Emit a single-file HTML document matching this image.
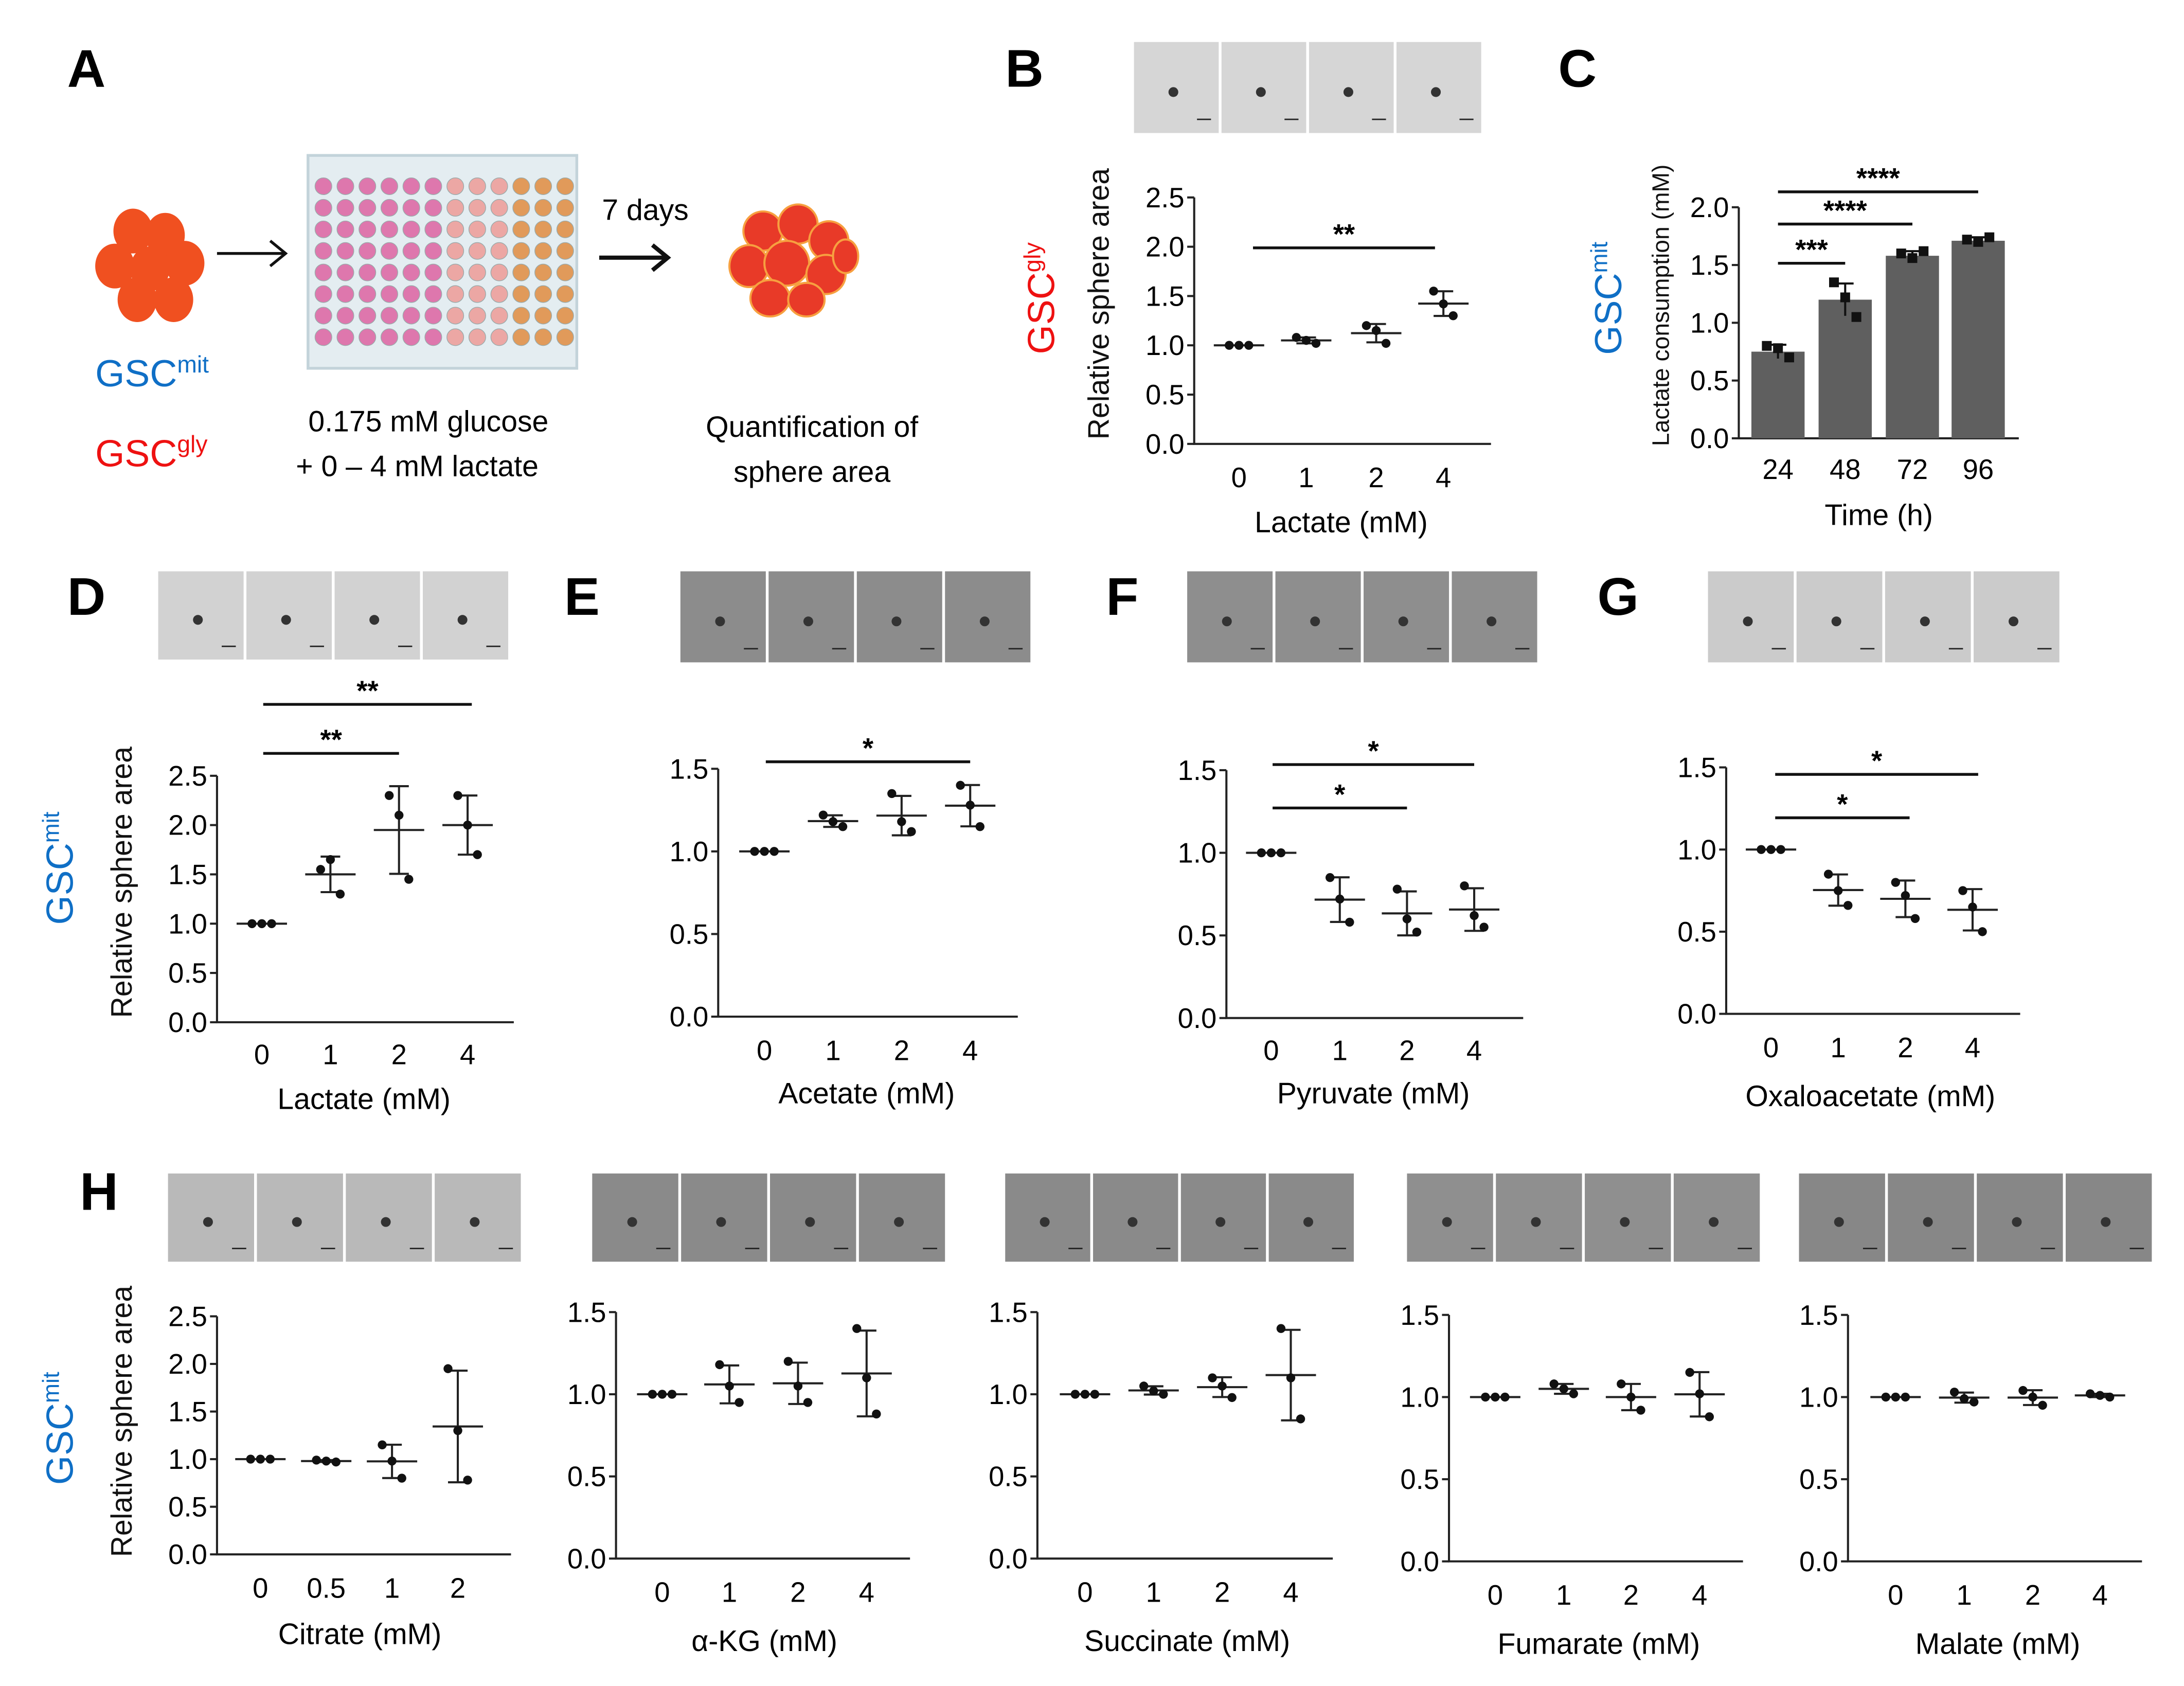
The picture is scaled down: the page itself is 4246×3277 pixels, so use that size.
<!DOCTYPE html>
<html><head><meta charset="utf-8"><style>
html,body{margin:0;padding:0;background:#fff}
svg{display:block;font-family:"Liberation Sans",sans-serif}
</style></head><body>
<svg id="fig" xmlns="http://www.w3.org/2000/svg" width="4246" height="3277" viewBox="0 0 1560 1204">
<rect width="1560" height="1204" fill="#fff"/>
<g id="panelA">
 <text x="48" y="62" font-size="38" font-weight="bold">A</text>
 <g fill="#f05020">
  <ellipse cx="95" cy="165" rx="14" ry="16"/><ellipse cx="118" cy="168" rx="14" ry="16"/>
  <ellipse cx="82" cy="190" rx="14" ry="16"/><ellipse cx="107" cy="192" rx="14" ry="16"/><ellipse cx="132" cy="188" rx="14" ry="16"/>
  <ellipse cx="98" cy="214" rx="14" ry="16"/><ellipse cx="124" cy="214" rx="14" ry="16"/>
 </g>
 <path d="M155 181 H203 M193 172 L204 181 L193 190" stroke="#111" stroke-width="2" fill="none"/>
 <rect x="220" y="111" width="192" height="152" fill="#e4edf1" stroke="#c3d3da" stroke-width="2"/>
 <g id="wells"></g>
 <text x="430" y="157" font-size="21">7 days</text>
 <path d="M428 184 H476 M466 175 L477 184 L466 193" stroke="#111" stroke-width="3" fill="none"/>
 <g fill="#e83a28" stroke="#f7a040" stroke-width="1.5">
  <ellipse cx="545" cy="165" rx="14" ry="14"/><ellipse cx="570" cy="160" rx="14" ry="14"/><ellipse cx="592" cy="172" rx="14" ry="14"/>
  <ellipse cx="535" cy="190" rx="14" ry="15"/><ellipse cx="562" cy="188" rx="16" ry="16"/><ellipse cx="590" cy="196" rx="14" ry="14"/>
  <ellipse cx="550" cy="213" rx="14" ry="13"/><ellipse cx="576" cy="214" rx="13" ry="12"/><ellipse cx="604" cy="183" rx="9" ry="12"/>
 </g>
 <text x="68" y="276" font-size="27" fill="#0f6fc6">GSC<tspan font-size="17" dy="-10">mit</tspan></text>
 <text x="68" y="333" font-size="27" fill="#ee1111">GSC<tspan font-size="17" dy="-10">gly</tspan></text>
 <text x="306" y="308" font-size="21" text-anchor="middle">0.175 mM glucose</text>
 <text x="298" y="340" font-size="21" text-anchor="middle">+ 0 – 4 mM lactate</text>
 <text x="580" y="312" font-size="21" text-anchor="middle">Quantification of</text>
 <text x="580" y="344" font-size="21" text-anchor="middle">sphere area</text>
</g>
<g id="plots"></g>
</svg>
<script>
var NS="http://www.w3.org/2000/svg";
function mk(parent,tag,attrs,txt){var e=document.createElementNS(NS,tag);for(var k in attrs)e.setAttribute(k,attrs[k]);if(txt!=null)e.textContent=txt;parent.appendChild(e);return e;}
// wells
var wg=document.getElementById('wells');
for(var r=0;r<8;r++)for(var c=0;c<12;c++){var col=c<6?'#de77ad':(c<9?'#eca7a4':'#e19a5a');
 var w=mk(wg,'circle',{cx:231+c*15.7,cy:133+r*15.4,r:6,fill:col,stroke:'#9aa',"stroke-width":0.5});
 
 }

// ===== DATA =====
var catsLac=["0","1","2","4"], catsCit=["0","0.5","1","2"];
var bLac=[[1,1,1],[1.08,1.05,1.02],[1.2,1.15,1.02],[1.55,1.42,1.3]];
var cTimes=["24","48","72","96"];
var cVals=[0.75,1.2,1.58,1.71];
var cErr=[0.06,0.14,0.04,0.03];
var cPts=[[0.8,0.78,0.7],[1.35,1.22,1.05],[1.6,1.56,1.62],[1.72,1.7,1.74]];
var dLac=[[1,1,1],[1.55,1.65,1.3],[2.3,2.1,1.45],[2.3,2.0,1.7]];
var eAce=[[1,1,1],[1.22,1.18,1.15],[1.35,1.18,1.12],[1.4,1.28,1.15]];
var fPyr=[[1,1,1],[0.85,0.72,0.58],[0.78,0.6,0.52],[0.8,0.62,0.55]];
var gOxa=[[1,1,1],[0.85,0.75,0.66],[0.8,0.72,0.58],[0.75,0.65,0.5]];
var hCit=[[1,1,1],[0.99,0.98,0.97],[1.15,0.98,0.8],[1.95,1.3,0.78]];
var hAkg=[[1,1,1],[1.18,1.05,0.95],[1.2,1.05,0.95],[1.4,1.1,0.88]];
var hSuc=[[1,1,1],[1.05,1.02,1.0],[1.1,1.05,0.98],[1.4,1.1,0.85]];
var hFum=[[1,1,1],[1.08,1.05,1.02],[1.08,1.0,0.92],[1.15,1.02,0.88]];
var hMal=[[1,1,1],[1.03,0.99,0.97],[1.04,1.0,0.95],[1.02,1.01,1.0]];
var ticks25=["0.0","0.5","1.0","1.5","2.0","2.5"], ticks15=["0.0","0.5","1.0","1.5"], ticks20=["0.0","0.5","1.0","1.5","2.0"];

var root=document.getElementById('plots');
function mean(a){return a.reduce(function(s,v){return s+v},0)/a.length;}
function sd(a){var m=mean(a);return Math.sqrt(a.reduce(function(s,v){return s+(v-m)*(v-m)},0)/(a.length-1));}
function axes(g,p,tick,cats){
 var ymax=parseFloat(tick[tick.length-1]);
 var ys=function(v){return p.y0-(v/ymax)*(p.y0-p.yt);};
 var l=mk(g,'path',{d:'M'+p.ax+' '+p.yt+' V'+p.y0+' H'+p.xe,stroke:'#222','stroke-width':1.5,fill:'none'});
 
 
 tick.forEach(function(t){var v=parseFloat(t);var y=ys(v);
  mk(g,'line',{x1:p.ax-5,x2:p.ax,y1:y,y2:y,stroke:'#222','stroke-width':1.5});
  var tt=mk(g,'text',{x:p.ax-7,y:y+7,'font-size':20,'text-anchor':'end'},t);
  
  });
 cats.forEach(function(c,i){var tt=mk(g,'text',{x:p.xs[i],y:p.ly,'font-size':20,'text-anchor':'middle'},c);
  
  });
 var xt=mk(g,'text',{x:p.tx,y:p.ty,'font-size':21,'text-anchor':'middle'},p.title);
 
 
 return ys;
}
function imgs(g,x,y,w,h,fill){for(var i=0;i<4;i++){var tw=w/4;
 var r=mk(g,'rect',{x:x+i*tw,y:y,width:tw-2,height:h,fill:fill});
 
 
 mk(g,'circle',{cx:x+i*tw+tw*0.45,cy:y+h*0.55,r:3.5,fill:'#333'});
 mk(g,'line',{x1:x+i*tw+tw*0.72,x2:x+i*tw+tw*0.88,y1:y+h*0.85,y2:y+h*0.85,stroke:'#222','stroke-width':1});}}
function scatter(name,p,data,tick,cats){
 var g=mk(root,'g',{});
 
 
 var ys=axes(g,p,tick,cats);
 data.forEach(function(pts,i){var x=p.xs[i],m=mean(pts),s=sd(pts);
  var ml=mk(g,'line',{x1:x-18,x2:x+18,y1:ys(m),y2:ys(m),stroke:'#222','stroke-width':1.5});
  
  
  if(s>0.001){mk(g,'path',{d:'M'+x+' '+ys(m+s)+' V'+ys(m-s)+' M'+(x-7)+' '+ys(m+s)+' H'+(x+7)+' M'+(x-7)+' '+ys(m-s)+' H'+(x+7),stroke:'#222','stroke-width':1.5,fill:'none'});}
  pts.forEach(function(v,j){var d=mk(g,'circle',{cx:x+(j-1)*7,cy:ys(v),r:3.2,fill:'#111'});
   
   });});
 return g;
}
function sig(g,x1,x2,y,lab){mk(g,'line',{x1:x1,x2:x2,y1:y,y2:y,stroke:'#111','stroke-width':2});
 var t=mk(g,'text',{x:(x1+x2)/2,y:y-3,'font-size':20,'font-weight':'bold','text-anchor':'middle'},lab);
 
 }
function rot(g,x,y,txt,size,fill,name,sup){var t=mk(g,'text',{x:0,y:0,'font-size':size,fill:fill,'text-anchor':'middle',transform:'translate('+x+','+y+') rotate(-90)'},txt);
 if(sup){mk(t,'tspan',{'font-size':size*0.62,dy:-size*0.37},sup);}
 
 }
function letter(x,y,L){var t=mk(root,'text',{x:x,y:y,'font-size':38,'font-weight':'bold'},L);
 
 }

// B
letter(718,62,'B');
var gB=scatter('panel-b-chart',{ax:853,yt:141,y0:317,xe:1065,xs:[885,933,983,1031],ly:348,tx:958,ty:380,title:'Lactate (mM)'},bLac,ticks25,catsLac);
imgs(gB,810,30,250,65,'#d6d6d6');sig(gB,895,1025,177,'**');
rot(gB,792,217,'Relative sphere area',21,'#111','y-axis-title');
rot(gB,753,213,'GSC',27,'#ee1111','gsc-gly-label','gly');

// C bars
letter(1113,62,'C');
(function(){var g=mk(root,'g',{});
 
 
 var p={ax:1242,yt:148,y0:313,xe:1442,xs:[1270,1318,1366,1413],ly:342,tx:1342,ty:375,title:'Time (h)'};
 var ys=axes(g,p,ticks20,cTimes);
 cVals.forEach(function(v,i){var x=p.xs[i];
  var b=mk(g,'rect',{x:x-19,y:ys(v),width:38,height:p.y0-ys(v),fill:'#5f5f5f'});
  
  
  mk(g,'path',{d:'M'+x+' '+ys(v+cErr[i])+' V'+ys(v-cErr[i])+' M'+(x-6)+' '+ys(v+cErr[i])+' H'+(x+6),stroke:'#111','stroke-width':1.5,fill:'none'});
  cPts[i].forEach(function(pv,j){var m=mk(g,'rect',{x:x+(j-1)*8-3.5,y:ys(pv)-3.5,width:7,height:7,fill:'#111'});
   
   });});
 sig(g,1270,1318,188,'***');sig(g,1270,1366,160,'****');sig(g,1270,1413,137,'****');
 rot(g,1192,218,'Lactate consumption (mM)',17,'#111','y-axis-title');
 rot(g,1158,213,'GSC',27,'#0f6fc6','gsc-mit-label','mit');})();

// D
letter(48,439,'D');
var gD=scatter('panel-d-chart',{ax:155,yt:554,y0:730,xe:367,xs:[187,236,285,334],ly:760,tx:260,ty:792,title:'Lactate (mM)'},dLac,ticks25,catsLac);
imgs(gD,113,408,252,63,'#d2d2d2');sig(gD,188,285,538,'**');sig(gD,188,337,503,'**');
rot(gD,94,630,'Relative sphere area',21,'#111','y-axis-title');
rot(gD,52,620,'GSC',27,'#0f6fc6','gsc-mit-label','mit');
// E
letter(403,439,'E');
var gE=scatter('panel-e-chart',{ax:513,yt:549,y0:726,xe:727,xs:[546,595,644,693],ly:757,tx:619,ty:788,title:'Acetate (mM)'},eAce,ticks15,catsLac);
imgs(gE,486,408,252,65,'#8c8c8c');sig(gE,547,693,544,'*');
// F
letter(790,439,'F');
var gF=scatter('panel-f-chart',{ax:876,yt:550,y0:727,xe:1088,xs:[908,957,1005,1053],ly:757,tx:981,ty:788,title:'Pyruvate (mM)'},fPyr,ticks15,catsLac);
imgs(gF,848,408,252,65,'#8e8e8e');sig(gF,909,1005,577,'*');sig(gF,909,1053,546,'*');
// G
letter(1141,439,'G');
var gG=scatter('panel-g-chart',{ax:1233,yt:548,y0:724,xe:1443,xs:[1265,1313,1361,1409],ly:755,tx:1336,ty:790,title:'Oxaloacetate (mM)'},gOxa,ticks15,catsLac);
imgs(gG,1220,408,253,65,'#cbcbcb');sig(gG,1268,1364,584,'*');sig(gG,1268,1413,553,'*');
// H
letter(57,864,'H');
var gH1=scatter('panel-h-citrate',{ax:155,yt:940,y0:1110,xe:365,xs:[186,233,280,327],ly:1141,tx:257,ty:1174,title:'Citrate (mM)'},hCit,ticks25,catsCit);
imgs(gH1,120,838,254,63,'#b9b9b9');
rot(gH1,94,1015,'Relative sphere area',21,'#111','y-axis-title');
rot(gH1,52,1020,'GSC',27,'#0f6fc6','gsc-mit-label','mit');
var gH2=scatter('panel-h-akg',{ax:440,yt:937,y0:1113,xe:650,xs:[473,521,570,619],ly:1144,tx:546,ty:1179,title:'α-KG (mM)'},hAkg,ticks15,catsLac);
imgs(gH2,423,838,254,63,'#8a8a8a');
var gH3=scatter('panel-h-succinate',{ax:741,yt:937,y0:1113,xe:952,xs:[775,824,873,922],ly:1144,tx:848,ty:1179,title:'Succinate (mM)'},hSuc,ticks15,catsLac);
imgs(gH3,718,838,251,63,'#8a8a8a');
var gH4=scatter('panel-h-fumarate',{ax:1035,yt:939,y0:1115,xe:1245,xs:[1068,1117,1165,1214],ly:1146,tx:1142,ty:1181,title:'Fumarate (mM)'},hFum,ticks15,catsLac);
imgs(gH4,1005,838,254,63,'#8f8f8f');
var gH5=scatter('panel-h-malate',{ax:1320,yt:939,y0:1115,xe:1530,xs:[1354,1403,1452,1500],ly:1146,tx:1427,ty:1181,title:'Malate (mM)'},hMal,ticks15,catsLac);
imgs(gH5,1285,838,254,63,'#878787');
</script>
</body></html>
